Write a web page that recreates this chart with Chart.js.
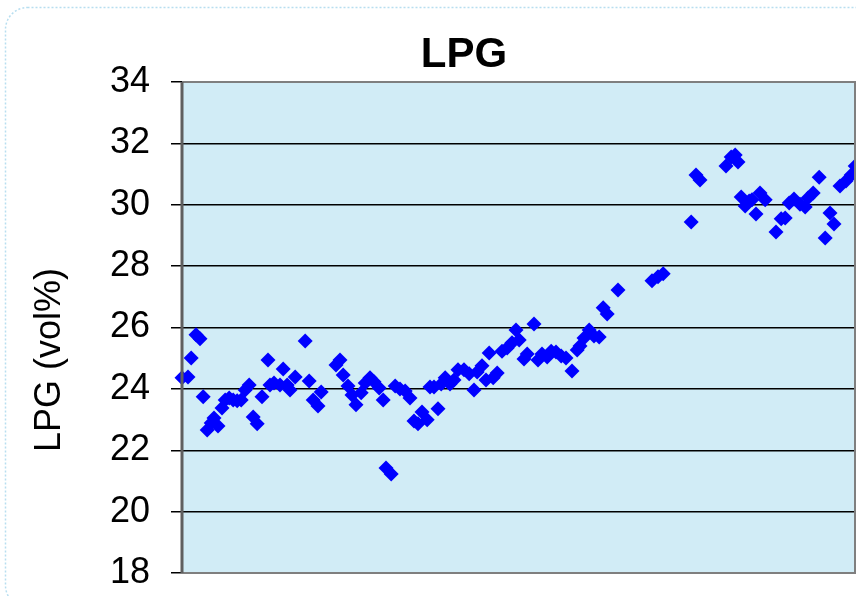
<!DOCTYPE html>
<html>
<head>
<meta charset="utf-8">
<script src="https://cdn.jsdelivr.net/npm/chart.js@4.4.1/dist/chart.umd.min.js"></script>
<style>
  html, body { margin: 0; padding: 0; background: #fff; overflow: hidden; }
  #wrap { position: relative; width: 856px; height: 596px; }
  canvas { display: block; }
</style>
</head>
<body>
<div id="wrap"><canvas id="lpg" width="856" height="596"></canvas></div>
<script>
/* LPG (vol%) — muestras */
const SAMPLE = [
  0, 1.5, 2.3, 3.5, 4.5, 5.3, 6.3, 7.3, 8, 9, 10, 10.8, 11.8, 12.8, 13.8, 14.8, 15.8, 16.8, 17.8, 18.8,
  20, 21.5, 22, 23, 24.5, 25.3, 26.3, 27, 28.3, 30.8, 31.8, 32.8, 34, 34.8, 38.5, 39.5, 40.3, 41.5, 42.5, 43.5,
  44.8, 45.8, 47, 48, 49.3, 50.3, 51, 52.3, 53.3, 54.5, 55.8, 57, 58, 59, 60, 61.3, 62, 63, 64, 64.8,
  65.8, 67, 68, 69, 70.5, 71.8, 73, 73.8, 75, 76, 76.8, 77.8, 78.8, 80, 81.3, 82.5, 83.5, 84.3, 85.5, 86.3,
  88, 89, 90, 91.3, 92.3, 93.5, 94.8, 96, 97.5, 98.8, 99.5, 100.5, 101.8, 103, 104.3, 105.3, 106.3, 109,
  117.5, 119, 120.3, 127.3, 128.5, 129.5, 136, 137.3, 138.3, 139, 139.8, 140.8, 141.8, 142.5, 143.5, 144.5,
  145.8, 148.5, 149.8, 150.8, 151.8, 153, 154.5, 155.8, 156.5, 157.8, 159.3, 160.8, 162, 163, 164.5, 166,
  167.3, 168.3
];
const LPG = [
  24.36, 24.39, 25.01, 25.76, 25.63, 23.74, 22.66, 22.89, 23.05, 22.79, 23.38, 23.64, 23.70, 23.64, 23.61, 23.64, 23.96, 24.13, 23.08, 22.86,
  23.74, 24.94, 24.13, 24.19, 24.13, 24.65, 24.13, 23.96, 24.39, 25.56, 24.26, 23.64, 23.44, 23.90, 24.78, 24.94, 24.45, 24.09, 23.80, 23.48,
  23.87, 24.19, 24.36, 24.23, 24.03, 23.64, 21.42, 21.23, 24.09, 24.00, 23.93, 23.70, 22.95, 22.86, 23.25, 22.99, 24.06, 24.06, 23.35, 24.16,
  24.36, 24.16, 24.29, 24.62, 24.62, 24.49, 23.96, 24.55, 24.75, 24.29, 25.17, 24.36, 24.52, 25.23, 25.33, 25.50, 25.92, 25.59, 24.97, 25.14,
  26.11, 24.94, 25.14, 25.04, 25.23, 25.20, 25.07, 25.01, 24.58, 25.27, 25.40, 25.66, 25.92, 25.72, 25.69, 26.64, 26.44, 27.22,
  27.52, 27.65, 27.75, 29.44, 30.97, 30.81, 31.26, 31.56, 31.62, 31.39, 30.25, 29.96, 30.12, 30.16, 29.70, 30.38,
  30.16, 29.11, 29.54, 29.57, 30.06, 30.19, 30.02, 29.93, 30.22, 30.38, 30.90, 28.92, 29.73, 29.37, 30.61, 30.77,
  30.97, 31.26
];
const Y_TICKS = [18, 20, 22, 24, 26, 28, 30, 32, 34];
const TITLE = 'LPG', Y_TITLE = 'LPG (vol%)';

const FONT = 'Arial, "Liberation Sans", sans-serif';
const BLUE = '#0000ff', PLOT_BG = '#d1ecf6', FRAME = '#7f7f7f';

/* fondo del área, marco punteado, título y rótulo del eje */
const decor = {
  id: 'decor',
  beforeDraw(chart) {
    const { ctx, chartArea: a } = chart;
    ctx.save();
    // marco redondeado punteado
    ctx.strokeStyle = '#b7def0';
    ctx.lineWidth = 1.5;
    ctx.setLineDash([2, 2]);
    ctx.beginPath();
    ctx.roundRect(5.5, 7.5, 880, 600, 22);
    ctx.stroke();
    ctx.setLineDash([]);
    ctx.fillStyle = PLOT_BG;
    ctx.fillRect(a.left, a.top, a.right - a.left, a.bottom - a.top);
    ctx.restore();
  },
  afterDraw(chart) {
    const { ctx, chartArea: a } = chart;
    ctx.save();
    ctx.strokeStyle = FRAME;
    ctx.lineWidth = 2;
    ctx.beginPath();
    ctx.moveTo(a.left, a.top); ctx.lineTo(a.right, a.top);
    ctx.lineTo(a.right, a.bottom); ctx.lineTo(a.left, a.bottom);
    ctx.stroke();
    ctx.strokeStyle = '#5f5f5f';
    ctx.lineWidth = 3;
    ctx.beginPath();
    ctx.moveTo(a.left, a.top); ctx.lineTo(a.left, a.bottom);
    ctx.stroke();

    ctx.fillStyle = '#000';
    ctx.textAlign = 'center';
    ctx.textBaseline = 'alphabetic';
    ctx.font = 'bold 42px ' + FONT;
    ctx.fillText(TITLE, 464, 67);

    ctx.translate(60, 360);
    ctx.rotate(-Math.PI / 2);
    ctx.font = '36px ' + FONT;
    ctx.fillText(Y_TITLE, 0, 0);
    ctx.restore();
  }
};

new Chart('lpg', {
  type: 'scatter',
  data: {
    datasets: [{
      data: SAMPLE.map((x, i) => ({ x, y: LPG[i] })),
      pointStyle: 'rectRot',
      pointRadius: 7.5,
      pointBackgroundColor: BLUE,
      pointBorderWidth: 0,
      clip: false
    }]
  },
  options: {
    responsive: false,
    animation: false,
    events: [],
    layout: { autoPadding: false, padding: { top: 82, right: 1, bottom: 23, left: 0 } },
    plugins: { legend: { display: false }, tooltip: { enabled: false } },
    scales: {
      x: { type: 'linear', display: false, min: 0, max: 168.25 },
      y: {
        min: 18, max: 34,
        afterBuildTicks: s => { s.ticks = Y_TICKS.map(v => ({ value: v })); },
        afterFit: s => { s.width = 182; s.paddingTop = 0; s.paddingBottom = 0; },
        grid: { color: '#000', lineWidth: 1.5, tickLength: 11, drawTicks: true },
        border: { display: false },
        ticks: { color: '#000', padding: 21, font: { family: FONT, size: 36 } }
      }
    }
  },
  plugins: [decor]
});
</script>
</body>
</html>
